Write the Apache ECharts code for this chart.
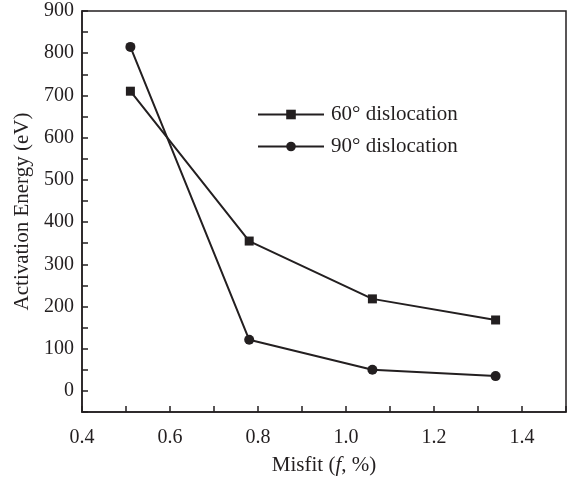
<!DOCTYPE html>
<html>
<head>
<meta charset="utf-8">
<script src="https://cdn.jsdelivr.net/npm/echarts@6/dist/echarts.min.js"></script>
<style>
  html, body { margin: 0; padding: 0; background: #fff; }
  #chart { width: 570px; height: 481px; }
</style>
</head>
<body>
<div id="chart"></div>
<script>
// misfit (%) where each dislocation was computed
const misfit = [0.51, 0.78, 1.06, 1.34]
// activation energy (eV)
const energy60 = [710, 355, 218, 168]
const energy90 = [815, 121, 50, 35]
const seriesNames = ['60° dislocation', '90° dislocation']

const ink = '#231f20'
const font = 'Liberation Serif'

const toPairs = (xs, ys) => xs.map((x, i) => [x, ys[i]])

const chart = echarts.init(document.getElementById('chart'))

chart.setOption({
  animation: false,
  textStyle: { fontFamily: font, color: ink },
  grid: {
    left: 82, right: 4, top: 11, bottom: 65,
    show: true, borderColor: ink, borderWidth: 1.5,
  },
  legend: {
    orient: 'vertical',
    left: 252,
    top: 99,
    itemWidth: 66,
    itemHeight: 12,
    itemGap: 11,
    textStyle: { fontFamily: font, fontSize: 21, color: ink, padding: [0, 0, 0, 2] },
    data: seriesNames,
  },
  xAxis: {
    type: 'value',
    min: 0.4,
    max: 1.5,
    interval: 0.1,
    name: '{n|Misfit (}{i|f}{n|, %)}',
    nameLocation: 'middle',
    nameGap: 43,
    nameTextStyle: {
      rich: {
        n: { fontFamily: font, fontSize: 21, color: ink },
        i: { fontFamily: font, fontSize: 21, color: ink, fontStyle: 'italic' },
      },
    },
    axisLine: { onZero: false, lineStyle: { color: ink, width: 1.5 } },
    axisTick: { inside: true, length: 6, lineStyle: { color: ink, width: 1.5 } },
    axisLabel: {
      margin: 16,
      fontSize: 20,
      color: ink,
      formatter: v => (Math.round(v * 10) % 2 === 0 && v < 1.45 ? v.toFixed(1) : ''),
    },
    splitLine: { show: false },
  },
  yAxis: {
    type: 'value',
    min: -50,
    max: 900,
    interval: 50,
    name: 'Activation Energy (eV)',
    nameLocation: 'middle',
    nameGap: 49,
    nameTextStyle: { fontFamily: font, fontSize: 21, color: ink },
    axisLine: { onZero: false, lineStyle: { color: ink, width: 1.5 } },
    axisTick: { inside: true, length: 6, lineStyle: { color: ink, width: 1.5 } },
    axisLabel: {
      margin: 8,
      fontSize: 20,
      color: ink,
      formatter: v => (v >= 0 && v % 100 === 0 ? String(v) : ''),
    },
    splitLine: { show: false },
  },
  series: [
    {
      name: seriesNames[0],
      type: 'line',
      data: toPairs(misfit, energy60),
      symbol: 'rect',
      symbolSize: 9,
      lineStyle: { color: ink, width: 2 },
      itemStyle: { color: ink },
    },
    {
      name: seriesNames[1],
      type: 'line',
      data: toPairs(misfit, energy90),
      symbol: 'circle',
      symbolSize: 10,
      lineStyle: { color: ink, width: 2 },
      itemStyle: { color: ink },
    },
  ],
})
</script>
</body>
</html>
